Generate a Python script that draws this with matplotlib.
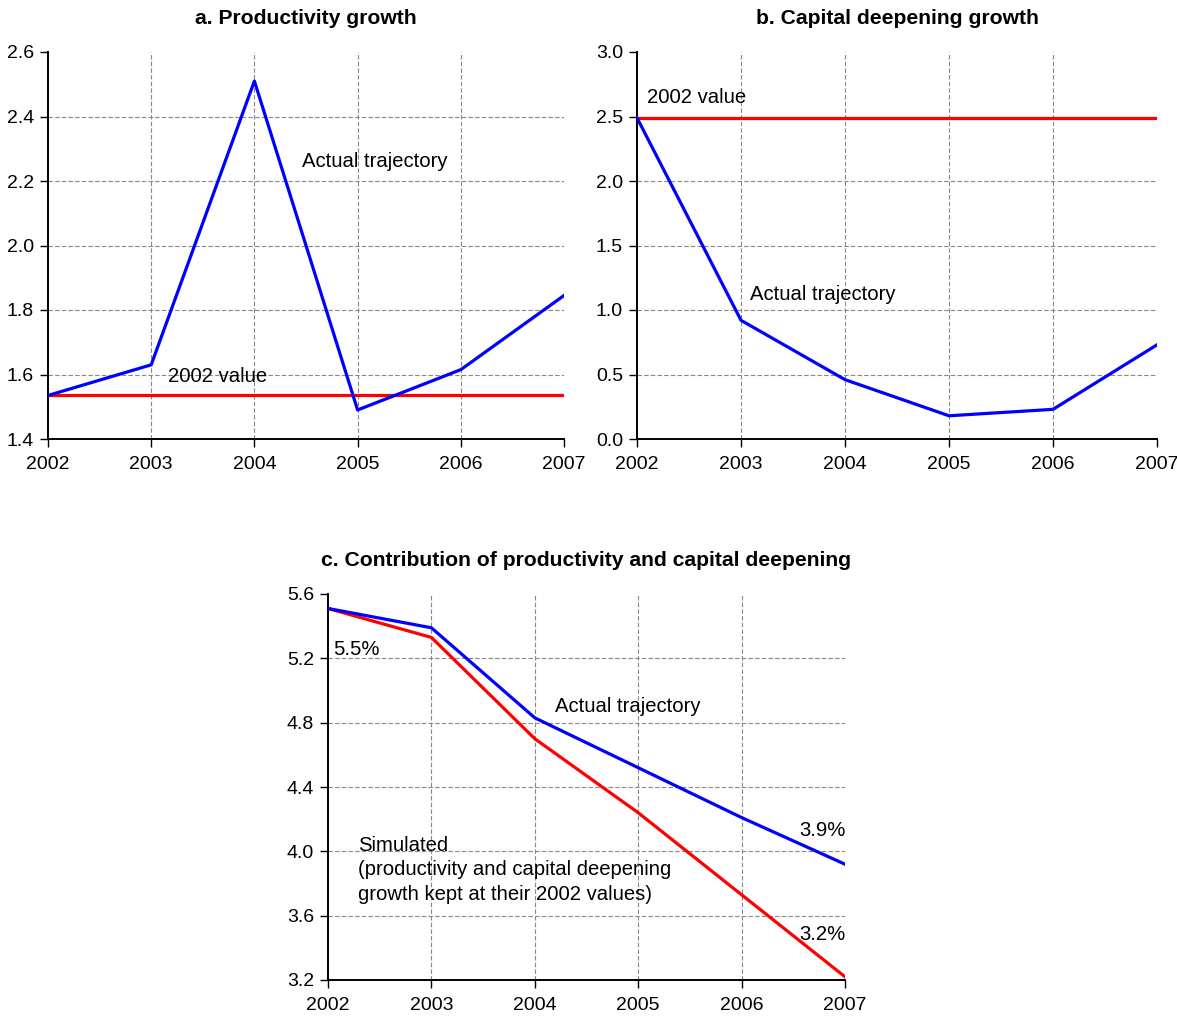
import matplotlib
matplotlib.use("Agg")
import matplotlib.pyplot as plt

plt.rcParams['font.family'] = ['Liberation Sans', 'DejaVu Sans']

years = [2002, 2003, 2004, 2005, 2006, 2007]

prod_actual = [1.535, 1.63, 2.51, 1.49, 1.615, 1.845]
prod_2002 = 1.535

cap_actual = [2.49, 0.92, 0.46, 0.18, 0.23, 0.73]
cap_2002 = 2.49

contrib_actual = [5.51, 5.39, 4.83, 4.52, 4.21, 3.92]
contrib_sim = [5.51, 5.33, 4.70, 4.24, 3.73, 3.22]

a_yticks = [1.4, 1.6, 1.8, 2.0, 2.2, 2.4, 2.6]
b_yticks = [0.0, 0.5, 1.0, 1.5, 2.0, 2.5, 3.0]
c_yticks = [3.2, 3.6, 4.0, 4.4, 4.8, 5.2, 5.6]

BLUE = '#0000FF'
RED = '#FF0000'
TICK_FS = 14
TXT_FS = 14.6
TITLE_FS = 15.2
LW = 2.3

W, H = 1177, 1019
fig = plt.figure(figsize=(W / 100, H / 100), dpi=100)


def px_axes(x0, x1, y0, y1):
    return fig.add_axes([x0 / W, 1 - y1 / H, (x1 - x0) / W, (y1 - y0) / H])


def style(ax, yticks, fmt):
    ax.set_xlim(years[0], years[-1])
    ax.set_ylim(yticks[0], yticks[-1])
    ax.set_xticks(years)
    ax.set_xticklabels([str(y) for y in years], fontsize=TICK_FS)
    ax.set_yticks(yticks)
    ax.set_yticklabels([fmt.format(v) for v in yticks], fontsize=TICK_FS)
    for s in ('top', 'right'):
        ax.spines[s].set_visible(False)
    for s in ('left', 'bottom'):
        ax.spines[s].set_linewidth(1.4)
        ax.spines[s].set_color('black')
    ax.tick_params(axis='both', direction='out', length=6, width=1.0, colors='black')
    ax.tick_params(axis='x', pad=6)
    ax.tick_params(axis='y', pad=4)
    ax.grid(True, color='#888888', linestyle=(0, (4, 2)), linewidth=0.8)
    xg = ax.get_xgridlines()
    yg = ax.get_ygridlines()
    xg[0].set_visible(False)
    xg[-1].set_visible(False)
    yg[0].set_visible(False)
    yg[-1].set_visible(False)
    ax.set_axisbelow(True)


# Panel a
ax1 = px_axes(48, 564, 52, 439)
style(ax1, a_yticks, '{:.1f}')
ax1.plot([years[0], years[-1]], [prod_2002, prod_2002], color=RED, lw=LW, zorder=3)
ax1.plot(years, prod_actual, color=BLUE, lw=LW, zorder=4)
ax1.set_title('a. Productivity growth', fontsize=TITLE_FS, fontweight='bold', pad=20)
ax1.text(2004.46, 2.259, 'Actual trajectory', fontsize=TXT_FS, va='center', ha='left')
ax1.text(2003.16, 1.595, '2002 value', fontsize=TXT_FS, va='center', ha='left')

# Panel b
ax2 = px_axes(637, 1157, 52, 439)
style(ax2, b_yticks, '{:.1f}')
ax2.plot([years[0], years[-1]], [cap_2002, cap_2002], color=RED, lw=LW, zorder=3)
ax2.plot(years, cap_actual, color=BLUE, lw=LW, zorder=4)
ax2.set_title('b. Capital deepening growth', fontsize=TITLE_FS, fontweight='bold', pad=20)
ax2.text(2002.1, 2.65, '2002 value', fontsize=TXT_FS, va='center', ha='left')
ax2.text(2003.09, 1.124, 'Actual trajectory', fontsize=TXT_FS, va='center', ha='left')

# Panel c
ax3 = px_axes(328, 845, 594, 980)
style(ax3, c_yticks, '{:.1f}')
ax3.plot(years, contrib_sim, color=RED, lw=LW, zorder=3)
ax3.plot(years, contrib_actual, color=BLUE, lw=LW, zorder=4)
ax3.set_title('c. Contribution of productivity and capital deepening',
              fontsize=TITLE_FS, fontweight='bold', pad=20)
ax3.text(2002.05, 5.258, '5.5%', fontsize=TXT_FS, va='center', ha='left')
ax3.text(2004.2, 4.90, 'Actual trajectory', fontsize=TXT_FS, va='center', ha='left')
ax3.text(2006.56, 4.13, '3.9%', fontsize=TXT_FS, va='center', ha='left')
ax3.text(2006.56, 3.486, '3.2%', fontsize=TXT_FS, va='center', ha='left')
ax3.text(2002.29, 3.885,
         'Simulated\n(productivity and capital deepening\ngrowth kept at their 2002 values)',
         fontsize=TXT_FS, va='center', ha='left', linespacing=1.38)

fig.savefig('out.png', dpi=100)
